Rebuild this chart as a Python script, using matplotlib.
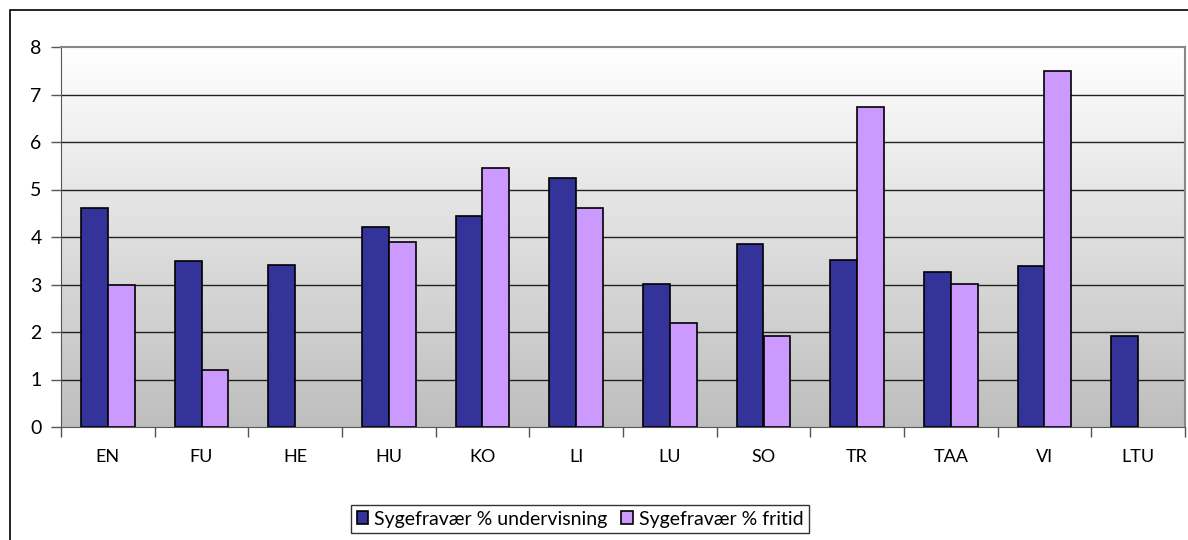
import numpy as np
import matplotlib.pyplot as plt
from matplotlib.patches import Rectangle
from matplotlib.colors import LinearSegmentedColormap

plt.rcParams['font.family'] = ['Lato', 'DejaVu Sans']

categories = ['EN', 'FU', 'HE', 'HU', 'KO', 'LI', 'LU', 'SO', 'TR', 'TAA', 'VI', 'LTU']
undervisning = [4.62, 3.49, 3.42, 4.21, 4.44, 5.24, 3.02, 3.85, 3.52, 3.27, 3.39, 1.92]
fritid = [2.98, 1.20, np.nan, 3.89, 5.46, 4.62, 2.18, 1.92, 6.73, 3.02, 7.50, np.nan]

labels = ['Sygefravær % undervisning', 'Sygefravær % fritid']
colors = ['#333399', '#CC99FF']

fig = plt.figure(figsize=(11.88, 5.40), dpi=100)
ax = fig.add_axes([61 / 1188, 1 - 427 / 540, 1124 / 1188, 380 / 540])

# outer chart frame (cut off at right and bottom)
fig.patches.append(Rectangle((10 / 1188, -0.05), 1.2, 1 - 10 / 540 + 0.05,
                             transform=fig.transFigure, fill=False,
                             edgecolor='black', linewidth=1.2))

n = len(categories)
x = np.arange(n)
w = 1 / 3.5

# gradient background
grad = np.linspace(0, 1, 256).reshape(-1, 1)
ax.imshow(grad, extent=[-0.5, n - 0.5, 0, 8], aspect='auto', origin='lower',
          cmap=LinearSegmentedColormap.from_list('bg', ['#BEBEBE', '#FFFFFF']),
          zorder=0)

for yv in range(1, 8):
    ax.axhline(yv, color='#222222', linewidth=1, zorder=1)

ax.bar(x - w / 2, undervisning, w, color=colors[0], edgecolor='black',
       linewidth=1.2, label=labels[0], zorder=3)
ax.bar(x + w / 2, fritid, w, color=colors[1], edgecolor='black',
       linewidth=1.2, label=labels[1], zorder=3)

ax.set_xlim(-0.5, n - 0.5)
ax.set_ylim(0, 8)
ax.set_yticks(range(0, 9))
ax.set_xticks(x)
ax.set_xticklabels(categories)
ax.set_xticks(np.arange(-0.5, n), minor=True)
ax.tick_params(axis='x', which='major', length=0, pad=16, labelsize=13)
ax.tick_params(axis='x', which='minor', length=7, width=1, color='#555555')
ax.tick_params(axis='y', length=7, width=1, color='#555555', pad=7, labelsize=14)

for side in ['top', 'right']:
    ax.spines[side].set_color('#888888')
    ax.spines[side].set_linewidth(1.5)
ax.spines['left'].set_color('#555555')
ax.spines['bottom'].set_color('#555555')

leg = fig.legend(loc='center', bbox_to_anchor=(580 / 1188, 1 - 519 / 540),
                 ncol=2, fontsize=14, frameon=True, fancybox=False,
                 handlelength=0.6, handleheight=0.6, handletextpad=0.3,
                 columnspacing=0.7, borderpad=0.3, borderaxespad=0)
leg.get_frame().set_edgecolor('black')
leg.get_frame().set_linewidth(1)

fig.savefig('out.png', dpi=100)
